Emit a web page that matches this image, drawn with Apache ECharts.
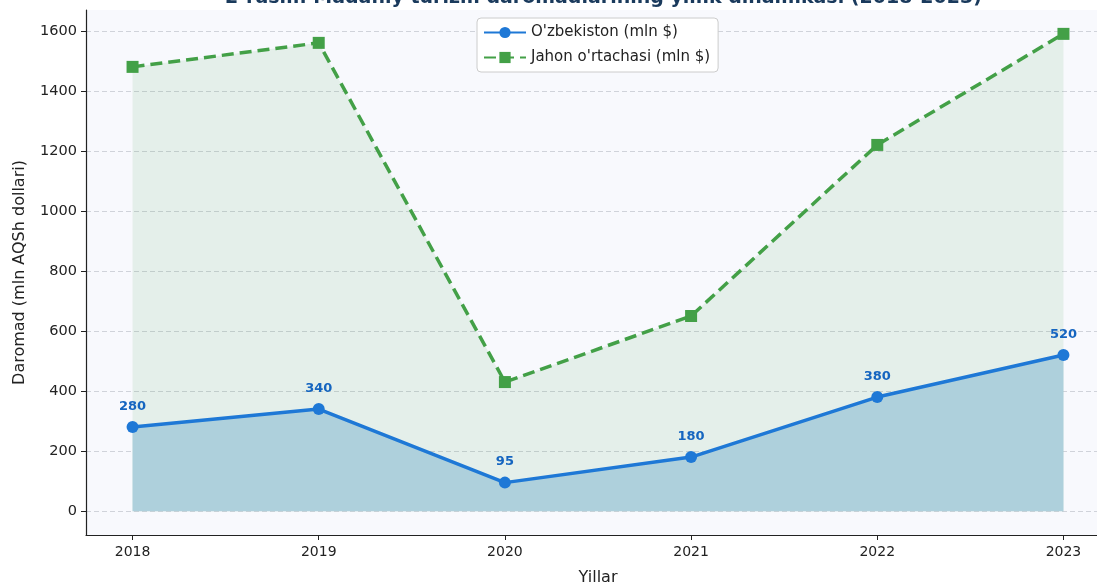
<!DOCTYPE html>
<html>
<head>
<meta charset="utf-8">
<script src="https://cdn.jsdelivr.net/npm/echarts@6/dist/echarts.min.js"></script>
<style>
  html, body { margin: 0; padding: 0; background: #ffffff; }
  #chart { width: 1097px; height: 582px; }
</style>
</head>
<body>
<div id="chart"></div>
<script>
  // ma'lumotlar
  var years = [2018, 2019, 2020, 2021, 2022, 2023];
  var uzbekiston = [280, 340, 95, 180, 380, 520];
  var jahon = [1480, 1560, 430, 650, 1220, 1590];
  var yTicks = [0, 200, 400, 600, 800, 1000, 1200, 1400, 1600];

  var font = 'DejaVu Sans';

  function pairs(vals) {
    return years.map(function (y, i) { return [y, vals[i]]; });
  }

  var chart = echarts.init(document.getElementById('chart'));
  chart.setOption({
    animation: false,
    textStyle: { fontFamily: font },
    title: {
      text: "2-rasm. Madaniy turizm daromadlarining yillik dinamikasi (2018-2023)",
      left: 220,
      top: -16,
      textStyle: { fontFamily: font, fontSize: 19, fontWeight: 'bold', color: '#1a3a5c' }
    },
    legend: {
      orient: 'vertical',
      left: 477,
      top: 18,
      padding: [7, 8, 7, 6],
      itemGap: 10,
      itemWidth: 42,
      itemHeight: 14,
      backgroundColor: '#ffffff',
      borderColor: '#cccccc',
      borderWidth: 1,
      borderRadius: 4,
      textStyle: { fontFamily: font, fontSize: 15, color: '#222' },
      data: ["O'zbekiston (mln $)", "Jahon o'rtachasi (mln $)"]
    },
    grid: {
      left: 86,
      top: 10,
      width: 1024,
      height: 525,
      outerBoundsMode: 'none',
      containLabel: false,
      show: true,
      backgroundColor: '#f8f9fd',
      borderWidth: 0
    },
    xAxis: {
      type: 'value',
      min: 2017.75,
      max: 2023.25,
      name: 'Yillar',
      nameLocation: 'middle',
      nameGap: 35,
      nameTextStyle: { fontFamily: font, fontSize: 16, color: '#222' },
      axisLine: { show: true, onZero: false, lineStyle: { color: '#222', width: 1.2 } },
      axisTick: { show: true, customValues: years, length: 5, lineStyle: { color: '#222' } },
      axisLabel: {
        customValues: years,
        fontFamily: font, fontSize: 14, color: '#222', margin: 10,
        formatter: function (v) { return String(v); }
      },
      splitLine: { show: false }
    },
    yAxis: {
      type: 'value',
      min: -79.5,
      max: 1669.5,
      name: 'Daromad (mln AQSh dollari)',
      nameLocation: 'middle',
      nameGap: 58,
      nameTextStyle: { fontFamily: font, fontSize: 16, color: '#222' },
      axisLine: { show: true, onZero: false, lineStyle: { color: '#222', width: 1.2 } },
      axisTick: { show: true, customValues: yTicks, length: 5, lineStyle: { color: '#222' } },
      axisLabel: {
        customValues: yTicks, fontFamily: font, fontSize: 14.5, color: '#222', margin: 9,
        formatter: function (v) { return String(v); }
      },
      splitLine: { show: true, lineStyle: { color: '#d0d3da', type: [5, 3], width: 1 } }
    },
    series: [
      {
        name: "Jahon o'rtachasi (mln $)",
        type: 'line',
        data: pairs(jahon),
        symbol: 'rect',
        symbolSize: 12,
        z: 2,
        lineStyle: { color: '#43a047', width: 3.5, type: [12, 6] },
        itemStyle: { color: '#43a047' },
        areaStyle: { color: 'rgba(67,160,71,0.15)', origin: 0 }
      },
      {
        name: "O'zbekiston (mln $)",
        type: 'line',
        data: pairs(uzbekiston),
        symbol: 'circle',
        symbolSize: 12,
        z: 3,
        lineStyle: { color: '#1e78d6', width: 3.5 },
        itemStyle: { color: '#1e78d6' },
        areaStyle: { color: '#aed0dc', opacity: 1, origin: 0 },
        label: {
          show: true,
          position: 'top',
          distance: 8,
          fontFamily: font,
          fontSize: 13,
          fontWeight: 'bold',
          color: '#1565c0',
          formatter: function (p) { return p.value[1]; }
        }
      }
    ]
  });
</script>
</body>
</html>
